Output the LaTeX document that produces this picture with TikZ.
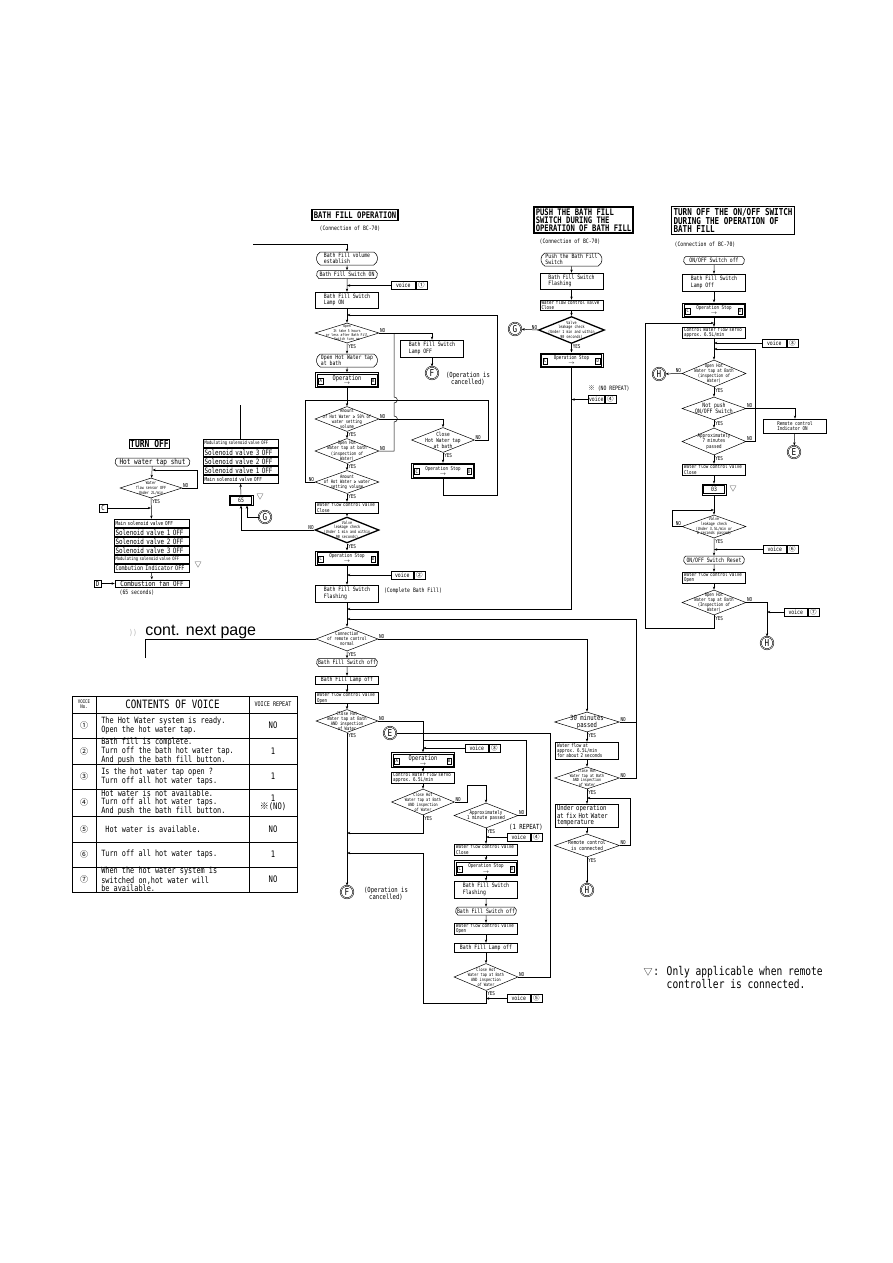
\documentclass[tikz,border=0pt]{standalone}
\usepackage{fontspec}
\setmainfont{DejaVu Sans Mono}[FakeStretch=0.8]
\newfontfamily\cjk{Noto Sans CJK JP}
\newfontfamily\hv{Liberation Sans}
\usepackage{tikz}
\usetikzlibrary{shapes.geometric,shapes.misc,arrows.meta,positioning}

\newcommand\fA{\fontsize{6}{6.4}\selectfont}
\newcommand\fB{\fontsize{5.2}{5.2}\selectfont}
\newcommand\fC{\fontsize{4.8}{5.2}\selectfont}
\newcommand\fY{\fontsize{5.4}{5.4}\selectfont}
\newcommand\fT{\fontsize{9}{7.8}\selectfont\bfseries}
\newcommand\cnum[1]{{\cjk\fontsize{6.5}{6.5}\selectfont #1}}

\newcommand\opbox[7]{%
  \node[draw,minimum width=63pt,minimum height=#7] (#1) at (#2) {};
  \node[draw,line width=0.4pt,minimum width=60pt,minimum height=#7-2.6pt] (#1-in) at (#1) {};
  \node[font=#3,inner sep=0pt] (#1-t) at ([yshift=1.7pt]#1.center) {#4};
  \node[font=\fB,inner sep=0pt] (#1-a) at ([yshift=-4pt]#1.center) {$\rightarrow$};
  \node[lb] (#1-l) at ([xshift=5.5pt,yshift=-1pt]#1.west) {#5};
  \node[lb] (#1-r) at ([xshift=-5.5pt,yshift=-1pt]#1.east) {#6};
}
\newcommand\voice[4]{%
  \node[vb,minimum width=#3,anchor=west] (#1) at (#2) {voice};
  \node[vb,minimum width=11pt,anchor=west] (#1-n) at (#1.east) {\cnum{#4}};
}
\newcommand\yesno[3]{%
  \node[yn,anchor=north west] (#1-y) at ([xshift=0.5pt]#1.south) {YES};
  \node[yn,anchor=south #2] (#1-n) at (#1.#3) {NO};
}

\begin{document}
\begin{tikzpicture}[x=1pt,y=-1pt,line width=0.5pt,font=\fA,
  >={Stealth[length=3.2pt,width=2.4pt]},
  box/.style={draw,rectangle,minimum width=63pt,minimum height=#1,align=left,inner sep=1pt},
  box/.default=16pt,
  sbox/.style={draw,rectangle,minimum width=63pt,minimum height=#1,text width=60pt,align=left,font=\fB,inner xsep=1.5pt,inner ysep=0.3pt},
  sbox/.default=11pt,
  term/.style={draw,rounded rectangle,rounded rectangle arc length=120,minimum width=63pt,minimum height=#1,align=left,inner xsep=1pt,inner ysep=0.3pt},
  term/.default=8pt,
  dia/.style 2 args={draw,diamond,inner sep=0pt,minimum width=#1,minimum height=#2},
  dtxt/.style={align=center,font=\fC,inner sep=0pt},
  heavy/.style={line width=1.3pt},
  lb/.style={draw,line width=0.4pt,font=\fC,inner sep=0.4pt,minimum width=4.5pt,minimum height=6pt},
  vb/.style={draw,minimum height=8pt,inner sep=0.5pt},
  conn/.style={draw,circle,double,double distance=0.6pt,minimum size=12.5pt,inner sep=0pt,font=\fontsize{9.5}{9.5}\selectfont},
  yn/.style={font=\fY,inner sep=0.5pt},
  ttl/.style={draw,line width=1.6pt,align=left,font=\fT,inner sep=2pt},
  note/.style={align=left,inner sep=0pt},
  stk/.style={draw,minimum width=75pt,minimum height=8.5pt,text width=72pt,align=left,inner xsep=1pt,inner ysep=0.3pt,font=\fontsize{7.4}{7.4}\selectfont},
  tri/.style={font=\cjk\fontsize{7}{7}\selectfont,inner sep=0pt},
  tbl/.style={font=\fontsize{8.6}{7.6}\selectfont,align=left,inner sep=0pt}]
\useasboundingbox (0,0) rectangle (893,1263);

% bath fill operation
\node[ttl] (t1) at (355,215) {BATH FILL OPERATION};
\node[note] (c1) at (350,229) {(Connection of BC-70)};
\coordinate (e1) at (253,244);
\node[term=13pt] (n1) at (347,258.5) {Bath Fill volume\\establish};
\node[term] (n2) at (347,274.5) {Bath Fill Switch ON};
\voice{v1}{391,285.5}{24pt}{①}
\node[box] (n3) at (347,300) {Bath Fill Switch\\Lamp ON};
\node[dia={64pt}{20pt}] (d1) at (347,333) {};
\node[dtxt,font=\fontsize{3.8}{4.3}\selectfont] (d1t) at (d1) {Open\\It take 5 hours\\or less after Bath Fill\\Switch turn on};
\node[term=13pt] (n4) at (347,360.5) {Open Hot Water tap\\at bath};
\opbox{o1}{347,380}{\fontsize{6.6}{6.6}\selectfont}{Operation}{A}{B}{15pt}
\node[dia={64pt}{25pt}] (d2) at (347,419) {};
\node[dtxt] (d2t) at (d2) {Amount\\of Hot Water ≥ 50\% of\\water setting\\volume};
\node[dia={64pt}{25pt}] (d3) at (347,451) {};
\node[dtxt] (d3t) at (d3) {Open Hot\\Water tap at bath\\(inspection of\\Water)};
\node[dia={64pt}{23pt}] (d4) at (347,482) {};
\node[dtxt] (d4t) at (d4) {Amount\\of Hot Water ≥ water\\setting volume};
\node[sbox] (n5) at (347,507.5) {Water flow control valve\\Close};
\node[dia={64pt}{26pt},heavy] (d5) at (347,530) {};
\node[dtxt,font=\fontsize{4.2}{4.8}\selectfont] (d5t) at (d5) {Valve\\leakage check\\(Under 1 min and within\\90 seconds)};
\opbox{o2}{347,558}{\fB}{Operation Stop}{C}{D}{14.5pt}
\voice{v2}{391,575}{22pt}{②}
\node[box=17pt] (n6) at (347,593.5) {Bath Fill Switch\\Flashing};
\node[note] (c1b) at (413,591) {(Complete Bath Fill)};
\coordinate (m1) at (347,609);
\coordinate (m2) at (347,619);
\node[dia={62pt}{24pt}] (d6) at (347,639) {};
\node[dtxt] (d6t) at (d6) {Connection\\of remote control\\normal};
\node[term] (n7) at (347,662.5) {Bath Fill Switch off};
\node[box=8pt] (n8) at (347,680) {Bath Fill Lamp off};
\node[sbox=10pt] (n9) at (347,698) {Water flow control valve\\Open};
\node[dia={62pt}{23pt}] (d7) at (347,721) {};
\node[dtxt] (d7t) at (d7) {Close Hot\\Water tap at Bath\\AND inspection\\of Water};
\node[conn] (F1) at (347,892) {F};
\node[note,align=center,font=\fontsize{7}{7}\selectfont] (F1t) at (386,894) {(Operation is\\cancelled)};

\node[box=17pt] (n10) at (432,348.5) {Bath Fill Switch\\Lamp OFF};
\node[conn] (F0) at (432,373) {F};
\node[note,align=center,font=\fontsize{7}{7}\selectfont] (F0t) at (468,379) {(Operation is\\cancelled)};
\node[dia={63pt}{25pt}] (d8) at (443,440) {};
\node[dtxt,font=\fontsize{5.6}{6}\selectfont] (d8t) at (d8) {Close\\Hot Water tap\\at bath};
\opbox{o3}{443,470.5}{\fB}{Operation Stop}{C}{D}{15pt}

\yesno{d1}{west}{east}
\yesno{d2}{west}{east}
\yesno{d3}{west}{east}
\yesno{d4}{east}{west}
\yesno{d5}{east}{west}
\yesno{d6}{west}{east}
\yesno{d7}{west}{east}
\yesno{d8}{west}{east}

\draw[->] (e1) -| (n1.north);
\draw[->] (n1) -- (n2);
\draw[->] (n2) -- (n3);
\draw[->] (v1.west) -- (v1.west -| n2.south);
\draw[->] (n3) -- (d1);
\draw[->] (d1) -- (n4);
\draw[->] (n4) -- (o1);
\draw[->] (o1) -- (d2);
\draw[->] (d2) -- (d3);
\draw[->] (d3) -- (d4);
\draw[->] (d4) -- (n5);
\draw[->] (n5) -- (d5);
\draw[->] (d5) -- (o2);
\draw[->] (o2) -- (n6);
\draw[->] (v2.west) -- (v2.west -| o2.south);
\draw[->] (n6) -- (d6);
\draw[->] (d6) -- (n7);
\draw[->] (n7) -- (n8);
\draw[->] (n8) -- (n9);
\draw[->] (n9) -- (d7);
\draw[->] (d7) -- (F1);
\draw[->] (d1.east) -| (n10.north);
\draw[->] (n10) -- (F0);
\coordinate (j1) at (394,333);
\draw (d3.east) -- (d3.east -| j1) -- (394,422) .. controls (398.5,422) and (398.5,416) .. (394,416)
  -- (394,403) .. controls (398.5,403) and (398.5,397) .. (394,397) -- (j1);
\draw[->] (d2.east) -| (d8.north);
\draw[->] (d8) -- (o3);
\coordinate (l1) at (305,400);
\coordinate (l2) at (488,400);
\draw (d4.west) -| (l1) -- (l2);
\draw (d8.east) -| (l2);
\coordinate (r1) at (497,495);
\coordinate (r2) at (497,315);
\draw[->] (o3.south) |- (r1) -- (r2) -- (r2 -| n3.south);

% turn off
\node[ttl,font=\fontsize{10}{10}\selectfont\bfseries,line width=1.4pt,inner sep=1pt] (t4) at (149.5,444) {TURN OFF};
\node[term,minimum width=77pt,font=\fontsize{7.6}{7.6}\selectfont] (l1a) at (152.5,462) {Hot water tap shut};
\node[dia={62pt}{20pt}] (l2a) at (151,488) {};
\node[dtxt,font=\fontsize{4.2}{4.8}\selectfont] (l2t) at (l2a) {Water\\flow sensor OFF\\Under 2L/min};
\yesno{l2a}{west}{east}
\coordinate (w1) at (197,470);
\draw[->] (l2a.east) -| (w1) -- (w1 -| l1a.south);
\draw[->] (l1a) -- (l2a);
\node[draw,font=\fontsize{7}{7}\selectfont,minimum size=8pt,inner sep=0pt] (Cb) at (103,508) {C};
\draw[->] (Cb) -- (Cb -| l2a.south);
\node[stk,font=\fontsize{5.4}{5.4}\selectfont] (s1a) at (151.5,523.25) {Main solenoid valve OFF};
\node[stk,below=0pt of s1a] (s1b) {Solenoid valve 1 OFF};
\node[stk,below=0pt of s1b] (s1c) {Solenoid valve 2 OFF};
\node[stk,below=0pt of s1c] (s1d) {Solenoid valve 3 OFF};
\node[stk,below=0pt of s1d,font=\fontsize{4.7}{4.7}\selectfont] (s1e) {Modulating solenoid valve OFF};
\node[stk,below=0pt of s1e,font=\fontsize{6.4}{6.4}\selectfont] (s1f) {Combution Indicator OFF};
\node[tri] (s1m) at (198,565) {▽};
\draw[->] (l2a) -- (s1a);
\node[box=7.5pt,minimum width=74pt,inner ysep=0.3pt,font=\fontsize{7.3}{7.3}\selectfont] (l3) at (152,583.5) {Combustion fan OFF};
\node[draw,font=\fontsize{7}{7}\selectfont,minimum size=7.5pt,inner sep=0pt] (Db) at (97.5,583.5) {D};
\draw[->] (Db) -- (l3);
\draw[->] (s1f) -- (l3);
\node[note] (l3t) at (137,593) {(65 seconds)};

\node[stk,font=\fontsize{4.7}{4.7}\selectfont] (s2a) at (240.5,443.25) {Modulating solenoid valve OFF};
\node[stk,below=0pt of s2a] (s2b) {Solenoid valve 3 OFF};
\node[stk,below=0pt of s2b] (s2c) {Solenoid valve 2 OFF};
\node[stk,below=0pt of s2c] (s2d) {Solenoid valve 1 OFF};
\node[stk,below=0pt of s2d,font=\fontsize{5.4}{5.4}\selectfont] (s2e) {Main solenoid valve OFF};
\node[draw,minimum width=24pt,minimum height=10.5pt,inner sep=0pt] (b65) at (241,500) {};
\node[draw,line width=0.4pt,minimum width=21pt,minimum height=7.5pt,inner sep=0pt] (b65in) at (b65) {65};
\node[tri] (b65m) at (260,497) {▽};
\node[conn] (G1) at (265,517) {G};
\coordinate (g1) at (247,505.5);
\coordinate (s2up) at (240.5,405);
\draw[->] (b65) -- (s2e);
\draw (s2a.north) -- (s2up);
\draw[->] (d5.west) -| (b65.south);
\draw[->] (G1.west) -| (g1);

% push the bath fill switch
\node[ttl] (t2) at (583.5,220) {PUSH THE BATH FILL\\SWITCH DURING THE\\OPERATION OF BATH FILL};
\node[note] (c2) at (570,242) {(Connection of BC-70)};
\node[term=13pt] (p1) at (571.5,259.5) {Push the Bath Fill\\Switch};
\node[box] (p2) at (571.5,281) {Bath Fill Switch\\Flashing};
\node[sbox=10pt] (p3) at (571.5,305) {Water flow control valve\\Close};
\node[dia={66pt}{27pt},heavy] (p4) at (571.5,330) {};
\node[dtxt,font=\fontsize{4.2}{4.8}\selectfont] (p4t) at (p4) {Valve\\leakage check\\(Under 1 min and within\\90 seconds)};
\node[conn] (G2) at (515,329) {G};
\opbox{p5}{571.5,360}{\fB}{Operation Stop}{C}{D}{14.5pt}
\node[note] (rep2) at (609,388) {\cnum{※} (NO REPEAT)};
\voice{v6}{588,399.5}{16pt}{④}
\yesno{p4}{east}{west}
\draw[->] (p1) -- (p2);
\draw[->] (p2) -- (p3);
\draw[->] (p3) -- (p4);
\draw[->] (p4) -- (p5);
\draw[->] (p4.west) -- (G2);
\draw[->] (v6.west) -- (v6.west -| p5.south);
\draw[->] (p5.south) |- (m1);

% turn off the on/off switch
\node[ttl,font=\fontsize{9.5}{8.4}\selectfont\bfseries] (t3) at (733,220.5) {TURN OFF THE ON/OFF SWITCH\\DURING THE OPERATION OF\\BATH FILL};
\node[note] (c3) at (705,245) {(Connection of BC-70)};
\node[term] (q1a) at (714,260.5) {ON/OFF Switch off};
\node[box=17pt] (q2a) at (714,282.5) {Bath Fill Switch\\Lamp Off};
\opbox{q3a}{714,310}{\fB}{Operation Stop}{C}{D}{14.5pt}
\node[sbox=9pt] (q4a) at (714,332.5) {Control Water flow servo\\approx. 6.5L/min};
\voice{v7}{762,343}{24pt}{③}
\node[dia={64pt}{27pt}] (q5a) at (714,373.5) {};
\node[dtxt] (q5t) at (q5a) {Open Hot\\Water tap at Bath\\(inspection of\\Water)};
\node[conn] (H2) at (659,374) {H};
\node[dia={64pt}{23pt}] (q6a) at (714,408.5) {};
\node[dtxt,font=\fontsize{6}{6.4}\selectfont] (q6t) at (q6a) {Not push\\ON/OFF Switch};
\node[box=14pt,font=\fB] (q7a) at (795,426) {Remote control\\Indicator ON};
\node[conn] (E2) at (794,452) {E};
\node[dia={64pt}{27pt}] (q8a) at (714,441.5) {};
\node[dtxt,font=\fontsize{5.2}{5.6}\selectfont] (q8t) at (q8a) {Approximately\\7 minutes\\passed};
\node[sbox] (q9a) at (714,469.5) {Water flow control valve\\Close};
\node[draw,minimum width=24pt,minimum height=11pt,inner sep=0pt] (q10a) at (714,489.5) {};
\node[draw,line width=0.4pt,minimum width=21pt,minimum height=8pt,inner sep=0pt] (q10in) at (q10a) {03};
\node[tri] (q10m) at (733,489) {▽};
\node[dia={64pt}{23pt}] (q11a) at (714,526.5) {};
\node[dtxt,font=\fontsize{4.2}{4.8}\selectfont] (q11t) at (q11a) {Valve\\leakage check\\(Under 3.5L/min or\\8 seconds passed)};
\voice{v8}{763,549.5}{23pt}{⑥}
\node[term] (q12a) at (714,560) {ON/OFF Switch Reset};
\node[sbox] (q13a) at (714,577.5) {Water flow control valve\\Open};
\node[dia={64pt}{25pt}] (q14a) at (714,602.5) {};
\node[dtxt] (q14t) at (q14a) {Open Hot\\Water tap at Bath\\(Inspection of\\Water)};
\node[conn] (H3) at (767,643) {H};
\voice{v9}{784,612}{23pt}{⑦}
\yesno{q5a}{east}{west}
\yesno{q6a}{west}{east}
\yesno{q8a}{west}{east}
\yesno{q11a}{east}{west}
\yesno{q14a}{west}{east}
\draw[->] (q1a) -- (q2a);
\draw[->] (q2a) -- (q3a);
\draw[->] (q3a) -- (q4a);
\draw[->] (q4a) -- (q5a);
\draw[->] (v7.west) -- (v7.west -| q4a.south);
\draw[->] (q5a.west) -- (H2);
\draw[->] (q5a) -- (q6a);
\draw[->] (q6a.east) -| (q7a.north);
\draw[->] (q7a) -- (E2);
\draw[->] (q6a) -- (q8a);
\coordinate (u2) at (755,349);
\draw[->] (q8a.east) -| (u2) -- (u2 -| q4a.south);
\draw[->] (q8a) -- (q9a);
\draw[->] (q9a) -- (q10a);
\draw[->] (q10a) -- (q11a);
\coordinate (u3) at (672,510);
\draw[->] (q11a.west) -| (u3) -- (u3 -| q10a.south);
\draw[->] (q11a) -- (q12a);
\draw[->] (v8.west) -- (v8.west -| q11a.south);
\draw[->] (q12a) -- (q13a);
\draw[->] (q13a) -- (q14a);
\draw[->] (q14a.east) -| (H3.north);
\draw[->] (v9.west) -- (v9.west -| H3.north);
\coordinate (u1) at (645,323);
\coordinate (u4) at (645,628);
\draw[->] (q14a.south) |- (u4) -- (u1) -- (u1 -| q3a.south);

% after bath fill
\node[font=\hv\fontsize{16}{16}\selectfont,anchor=south west,inner sep=0pt] (cnt) at (145,639) {cont. next page};
\node[text=black!30,font=\fontsize{8}{8}\selectfont] (brk) at (133,633) {))};
\coordinate (cn1) at (145,658);
\draw (cn1) |- (d6.west);

\node[conn] (E1) at (390,733) {E};
\opbox{o4}{423,760}{\fontsize{6.6}{6.6}\selectfont}{Operation}{A}{B}{15pt}
\voice{v3}{465,748}{23pt}{③}
\node[sbox=9pt] (n11) at (423,777.5) {Control Water flow servo\\approx. 6.5L/min};
\node[dia={63pt}{26pt}] (d12) at (423,802) {};
\node[dtxt,font=\fontsize{4.4}{4.9}\selectfont] (d12t) at (d12) {Close Hot\\Water tap at Bath\\AND inspection\\of Water};
\node[dia={64pt}{25pt}] (d14) at (486,815.5) {};
\node[dtxt,font=\fontsize{5.2}{5.6}\selectfont] (d14t) at (d14) {Approximately\\1 minute passed};
\node[note,font=\fontsize{7}{7}\selectfont] (rep1) at (526,827) {(1 REPEAT)};
\voice{v4}{507,837}{23pt}{④}
\node[sbox] (n12) at (486,849.5) {Water flow control valve\\Close};
\opbox{o5}{486,868}{\fB}{Operation Stop}{C}{D}{15pt}
\node[box=17pt] (n13) at (486,889.5) {Bath Fill Switch\\Flashing};
\node[term] (n14) at (486,911) {Bath Fill Switch off};
\node[sbox] (n15) at (486,928.5) {Water flow control valve\\Open};
\node[box=9pt] (n16) at (486,947.5) {Bath Fill Lamp off};
\node[dia={64pt}{27pt}] (d13) at (486,977) {};
\node[dtxt,font=\fontsize{4.4}{4.9}\selectfont] (d13t) at (d13) {Close Hot\\Water tap at Bath\\AND inspection\\of Water};
\voice{v5}{507,998.5}{23pt}{⑤}
\yesno{d12}{west}{east}
\yesno{d14}{west}{east}
\yesno{d13}{west}{east}

\draw[->] (d7.east) -| (o4.north);
\coordinate (q1) at (550,733);
\draw (E1) -- (q1);
\draw (d13.east) -| (q1);
\coordinate (q2) at (526,740);
\draw (d14.east) -| (q2) -- (q2 -| o4.north);
\draw[->] (v3.west) -- (v3.west -| o4.north);
\draw[->] (o4) -- (n11);
\draw[->] (n11) -- (d12);
\coordinate (q3) at (467,785);
\draw[->] (d12.east) -| (q3) -| (d14.north);
\coordinate (m3) at (347,833);
\draw[->] (d12.south) |- (m3);
\draw[->] (d14) -- (n12);
\draw[->] (v4.west) -- (v4.west -| d14.south);
\draw[->] (n12) -- (o5);
\draw[->] (o5) -- (n13);
\draw[->] (n13) -- (n14);
\draw[->] (n14) -- (n15);
\draw[->] (n15) -- (n16);
\draw[->] (n16) -- (d13);
\draw[->] (v5.west) -- (v5.west -| d13.south);
\coordinate (q4) at (423,1003);
\coordinate (m4) at (347,853);
\draw[->] (d13.south) |- (q4) |- (m4);

\node[dia={65pt}{20pt}] (d9) at (587,722) {};
\node[dtxt,font=\fontsize{7}{6.8}\selectfont] (d9t) at (d9) {30 minutes\\passed};
\node[sbox=17pt] (n17) at (587,750.5) {Water flow at\\approx. 6.5L/min\\for about 2 seconds};
\node[dia={65pt}{22pt}] (d11) at (587,778) {};
\node[dtxt,font=\fontsize{4.2}{4.7}\selectfont] (d11t) at (d11) {Close Hot\\Water tap at Bath\\AND inspection\\of Water};
\node[box=19pt,font=\fontsize{7}{6.3}\selectfont,text width=60pt] (n18) at (587,815.5) {Under operation\\at fix Hot Water\\temperature};
\node[dia={65pt}{23pt}] (d10) at (587,845.5) {};
\node[dtxt,font=\fontsize{5.5}{6}\selectfont] (d10t) at (d10) {Remote control\\is connected};
\node[conn] (H1) at (587,890) {H};
\yesno{d9}{west}{east}
\yesno{d11}{west}{east}
\yesno{d10}{west}{east}
\draw[->] (d6.east) -| (d9.north);
\draw[->] (d9) -- (n17);
\draw[->] (n17) -- (d11);
\draw[->] (d11) -- (n18);
\draw[->] (n18) -- (d10);
\draw[->] (d10) -- (H1);
\coordinate (q5) at (630,798);
\draw[->] (d10.east) -| (q5) -- (q5 -| n18.north);
\coordinate (k1) at (636,619);
\draw[->] (d11.east) -| (k1) -- (m2);
\draw (d9.east) -- (d9.east -| k1);

% voice table
\draw (72,696) rectangle (297,892);
\foreach \y in {713,738,764,789,816,842,867} \draw (72,\y) -- (297,\y);
\draw (96,696) -- (96,892);
\draw (249,696) -- (249,892);
\node[font=\fontsize{5}{5}\selectfont,align=center,inner sep=0pt] (th1) at (84,704.5) {VOICE\\No.};
\node[font=\fontsize{11.5}{11.5}\selectfont,inner sep=0pt] (th2) at (172.5,704.5) {CONTENTS OF VOICE};
\node[font=\fontsize{6.4}{6.4}\selectfont,inner sep=0pt] (th3) at (273,704.5) {VOICE REPEAT};
\foreach \n/\y/\c/\t/\r in {
  1/725.5/①/{The Hot Water system is ready.\\Open the hot water tap.}/NO,
  2/751/②/{Bath fill is complete.\\Turn off the bath hot water tap.\\And push the bath fill button.}/1,
  3/776.5/③/{Is the hot water tap open ?\\Turn off all hot water taps.}/1,
  4/802.5/④/{Hot water is not available.\\Turn off all hot water taps.\\And push the bath fill button.}/{1\\{\cjk ※}(NO)},
  5/829/⑤/{\ Hot water is available.}/NO,
  6/854.5/⑥/{Turn off all hot water taps.}/1,
  7/879.5/⑦/{When the hot water system is\\switched on,hot water will\\be available.}/NO}
{
  \node[font=\cjk\fontsize{8}{8}\selectfont,inner sep=0pt] (tv\n) at (84,\y) {\c};
  \node[tbl,anchor=west] (tc\n) at (101,\y) {\t};
  \node[tbl,align=center,font=\fontsize{9}{8}\selectfont] (tr\n) at (273,\y) {\r};
}

\node[tri,font=\cjk\fontsize{9}{9}\selectfont] (fnm) at (648,972) {▽};
\node[note,anchor=north west,font=\fontsize{12}{10.5}\selectfont] (fn) at (653,966) {: Only applicable when remote\\\hphantom{: }controller is connected.};
\end{tikzpicture}
\end{document}
